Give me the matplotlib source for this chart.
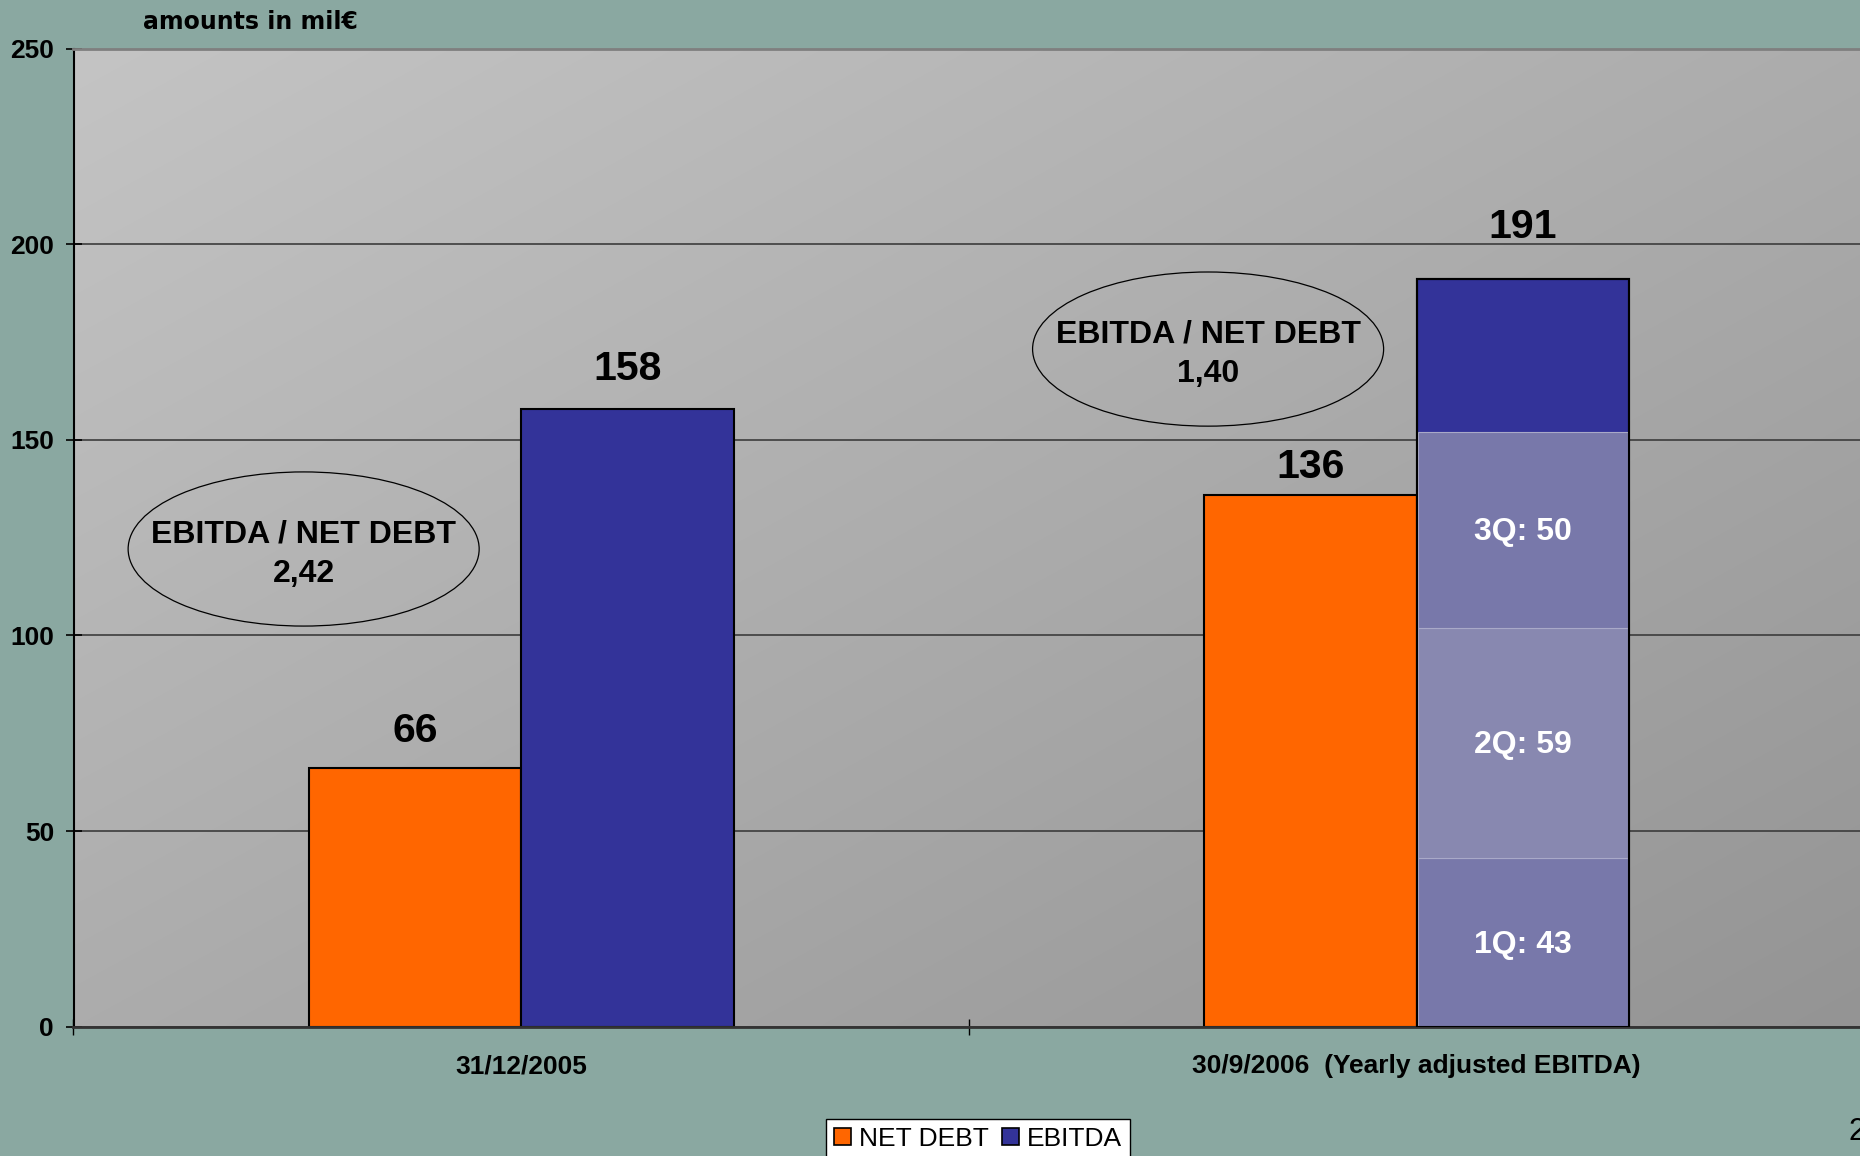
import numpy as np
import matplotlib
matplotlib.use("Agg")
import matplotlib.pyplot as plt
from matplotlib.patches import Ellipse, Patch

plt.rcParams['font.family'] = ['Liberation Sans', 'DejaVu Sans']

# data (mil€)
categories = ["31/12/2005", "30/9/2006  (Yearly adjusted EBITDA)"]
net_debt = [66, 136]
ebitda = [158, 191]
quarters = ["1Q", "2Q", "3Q"]
quarter_vals = [43, 59, 50]          # stacked inside the 2006 EBITDA bar
ratio_labels = ["2,42", "1,40"]

ORANGE = "#FF6600"
NAVY = "#333399"
Q_COLORS = ["#7878AA", "#8888B0", "#7878AA"]
BG = "#8AA8A1"

fig = plt.figure(figsize=(18.6, 11.56), dpi=100, facecolor=BG)
ax = fig.add_axes([73.5 / 1860, 1 - 1026.7 / 1156, 1791 / 1860, 978.1 / 1156])

# diagonal grey gradient for the plot area
u, v = np.meshgrid(np.linspace(0, 1, 300), np.linspace(0, 1, 300))
shade = (196 - 48 * (u + v) / 2) / 255.0
ax.imshow(np.dstack([shade, shade, shade]), extent=[0, 1, 0, 1], origin="upper",
          transform=ax.transAxes, aspect="auto", zorder=0, interpolation="bilinear")

x = np.arange(len(categories))
w = 0.2374

ax.bar(x - w / 2, net_debt, w, color=ORANGE, edgecolor="black", linewidth=1.5, zorder=2)
ax.bar(x + w / 2, ebitda, w, color=NAVY, edgecolor="black", linewidth=1.5, zorder=2)

# quarterly split of the 2006 bar
bottom = 0
for q, val, col in zip(quarters, quarter_vals, Q_COLORS):
    ax.bar(x[1] + w / 2, val, w * 0.985, bottom=bottom, color=col,
           edgecolor="#A9A9C8", linewidth=0.8, zorder=3)
    ax.text(x[1] + w / 2, bottom + val / 2 - 0.6, f"{q}: {val}", color="white",
            fontsize=23, fontweight="bold", ha="center", va="center", zorder=5)
    bottom += val
ax.bar(x[1] + w / 2, ebitda[1], w, fill=False, edgecolor="black", linewidth=1.5, zorder=4)

# value labels above bars (offset in data units)
label_gap_nd = [9.5, 7.0]
label_gap_eb = [10.2, 13.3]
for i in range(len(categories)):
    ax.text(x[i] - w / 2, net_debt[i] + label_gap_nd[i], str(net_debt[i]),
            fontsize=29.5, fontweight="bold", ha="center", va="center", zorder=5)
    ax.text(x[i] + w / 2, ebitda[i] + label_gap_eb[i], str(ebitda[i]),
            fontsize=29.5, fontweight="bold", ha="center", va="center", zorder=5)

# ratio callouts
ell_centers = [(-0.243, 122.1), (0.767, 173.2)]
for (cx, cy), r in zip(ell_centers, ratio_labels):
    ax.add_patch(Ellipse((cx, cy), 0.392, 39.4, fill=False, edgecolor="black",
                         linewidth=0.9, zorder=5))
    ax.text(cx, cy + 3.8, "EBITDA / NET DEBT", fontsize=23, fontweight="bold",
            ha="center", va="center", zorder=6)
    ax.text(cx, cy - 6.4, r, fontsize=23, fontweight="bold",
            ha="center", va="center", zorder=6)

ax.set_xlim(-0.5, 1.5)
ax.set_ylim(0, 250)
ax.set_yticks([0, 50, 100, 150, 200, 250])
ax.set_axisbelow(True)
ax.yaxis.grid(True, color="#3c3c3c", linewidth=1.2)
ax.tick_params(axis="y", direction="inout", length=12, width=1.2, pad=8,
               labelsize=19)
for lab in ax.get_yticklabels():
    lab.set_fontweight("bold")

ax.set_xticks([-0.5, 0.5, 1.5])
ax.set_xticklabels([])
ax.tick_params(axis="x", direction="inout", length=12, width=1.0)
for i, c in enumerate(categories):
    ax.text(x[i], -0.0402, c, transform=ax.get_xaxis_transform(), fontsize=19,
            fontweight="bold", ha="center", va="center")

ax.spines["top"].set_color("#7f7f7f")
ax.spines["top"].set_linewidth(2)
ax.spines["right"].set_visible(False)
ax.spines["left"].set_linewidth(1.5)
ax.spines["bottom"].set_color("#333333")
ax.spines["bottom"].set_linewidth(2)

fig.text(143 / 1860, 1 - 22 / 1156, "amounts in mil€", fontsize=17,
         fontweight="bold", family="DejaVu Sans", ha="left", va="center")

handles = [Patch(facecolor=ORANGE, edgecolor="black", linewidth=1.2, label="NET DEBT"),
           Patch(facecolor=NAVY, edgecolor="black", linewidth=1.2, label="EBITDA")]
leg = fig.legend(handles=handles, loc="upper left", ncol=2,
                 bbox_to_anchor=(826 / 1860, 1 - 1119 / 1156), fontsize=19,
                 frameon=True, fancybox=False, edgecolor="black", framealpha=1,
                 borderpad=0.3, handlelength=0.65, handleheight=0.65,
                 handletextpad=0.3, columnspacing=0.5, borderaxespad=0)
leg.get_frame().set_linewidth(1.0)

fig.text(1848 / 1860, 1 - 1132 / 1156, "2", fontsize=22, ha="left", va="center")

fig.savefig("out.png", dpi=100, facecolor=BG)
